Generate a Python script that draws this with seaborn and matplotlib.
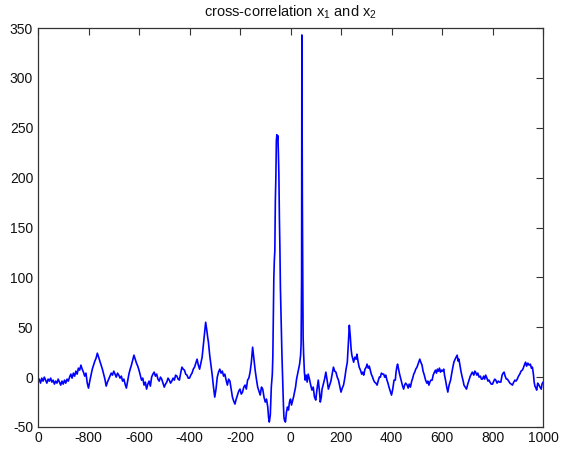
import numpy as np
import pandas as pd
import matplotlib
matplotlib.use("Agg")
import matplotlib.pyplot as plt
import seaborn as sns

# (lag, cross-correlation) samples, grouped by lag range
seg_far_left = [
    (-1000, -5), (-995, -2), (-990, -6), (-985, -1), (-980, -4), (-975, 0), (-970, -3),
    (-965, -6), (-960, -2), (-955, -4), (-950, -1), (-945, -5), (-940, -3), (-935, -7),
    (-930, -4), (-925, -6), (-920, -2), (-915, -5), (-910, -8), (-905, -4), (-900, -7),
    (-895, -3), (-890, -6), (-885, -2), (-880, -4), (-875, 0), (-870, 3), (-865, -1),
    (-860, 4), (-855, 1), (-850, 6), (-845, 3), (-840, 9), (-835, 7), (-830, 12),
    (-825, 8), (-820, 5), (-815, 1), (-810, 4), (-805, -6), (-800, -11), (-795, -4),
    (-790, 2), (-785, 8), (-780, 12), (-775, 16), (-770, 19), (-765, 24), (-760, 20),
    (-755, 16), (-750, 12), (-745, 8), (-740, 3), (-735, -2), (-730, -9), (-725, -5),
    (-720, -2), (-715, 1), (-710, 4), (-705, 2), (-700, 6), (-695, 3), (-690, 0),
    (-685, 4), (-680, 2), (-675, -1), (-670, 1), (-665, -4), (-660, -2), (-655, -7),
    (-650, -11), (-645, -4), (-640, 3), (-635, 8), (-630, 12), (-625, 17), (-620, 22),
    (-615, 18), (-610, 14), (-605, 11), (-600, 7), (-595, 2), (-590, -3), (-585, -1),
    (-580, -8), (-575, -5), (-570, -12), (-565, -7), (-560, -4), (-555, -9), (-550, 0),
    (-545, 3), (-540, 5),
]

seg_left = [
    (-535, 1), (-530, 3), (-525, -2), (-520, -4), (-515, 0), (-510, -2), (-505, -6),
    (-500, -10), (-495, -7), (-490, -5), (-485, -1), (-480, -3), (-475, -6), (-470, -4),
    (-465, -1), (-460, -3), (-455, 2), (-450, 1), (-445, -2), (-440, -3), (-435, 4),
    (-430, 10), (-425, 8), (-420, 7), (-415, 3), (-410, 2), (-405, -1), (-400, -1),
    (-395, 2), (-390, 4), (-385, 8), (-380, 10), (-375, 14), (-370, 18), (-365, 12),
    (-360, 8), (-355, 14), (-350, 20), (-345, 33), (-340, 45), (-336, 55), (-332, 48),
    (-328, 40), (-325, 35), (-320, 22), (-315, 12), (-310, 2), (-305, -10), (-300, -20),
    (-295, -12), (-290, 0), (-285, 5), (-280, 8), (-275, 4), (-270, 6), (-265, 1),
    (-260, 3), (-255, -3), (-250, -8), (-245, -2), (-240, -4), (-235, -12), (-230, -20),
    (-225, -24), (-220, -27), (-215, -22), (-210, -18), (-205, -14), (-200, -12),
    (-195, -17), (-190, -15), (-185, -10), (-180, -8), (-175, -12), (-170, -3),
    (-165, -1), (-160, 5), (-155, 15), (-150, 30), (-145, 18), (-140, 7), (-135, -2),
    (-130, -10), (-125, -14),
]

seg_center = [
    (-120, -18), (-115, -10), (-110, -12), (-105, -20), (-100, -25), (-95, -22),
    (-90, -30), (-87, -40), (-84, -45), (-80, -38), (-76, -10), (-72, 3), (-70, 20),
    (-68, 57), (-66, 100), (-64, 117), (-62, 127), (-60, 177), (-58, 200), (-56, 237),
    (-54, 243), (-52, 238), (-50, 242), (-48, 225), (-46, 203), (-44, 160), (-42, 130),
    (-40, 90), (-38, 67), (-36, 45), (-34, 23), (-32, 5), (-30, -10), (-28, -28),
    (-26, -40), (-24, -43), (-20, -45), (-16, -35), (-12, -30), (-8, -33), (-4, -25),
    (0, -22), (4, -28), (8, -24), (12, -20), (16, -15), (20, -10), (24, -2), (28, 3),
    (32, 8), (36, 13), (40, 22), (42, 33), (44, 100), (45, 343), (46, 250), (47, 175),
    (48, 120), (49, 80), (50, 40), (52, 23), (55, 5), (58, -3), (62, 2), (66, -5),
    (70, 3), (75, -2), (80, -8), (85, -13), (90, -10), (95, -20), (100, -23),
    (105, -12), (110, -3), (115, -15), (118, -25), (122, -20),
]

seg_right = [
    (125, -12), (130, -7), (135, -2), (140, 5), (145, -3), (150, -12), (155, -8),
    (160, -4), (165, 3), (170, 10), (175, 6), (180, 5), (185, 0), (190, -3), (195, -9),
    (200, -15), (205, -11), (210, -8), (215, -1), (220, 8), (225, 15), (230, 38),
    (233, 52), (237, 40), (240, 28), (243, 22), (247, 18), (250, 15), (255, 20),
    (260, 18), (263, 23), (268, 15), (272, 10), (277, 7), (282, 3), (286, 5), (290, 2),
    (295, 8), (300, 10), (303, 13), (308, 9), (312, 11), (316, 7), (320, 3), (325, 0),
    (329, -3), (333, -5), (338, -6), (343, -8), (348, -3), (352, 0), (356, 0), (360, 4),
    (365, 3), (369, 3), (373, 0), (377, 2), (382, -3), (386, -6), (390, -10),
    (395, -14), (400, -18), (405, -12), (410, -3), (415, -3), (418, 5), (421, 10),
    (424, 13), (428, 8), (432, 3), (435, 0), (440, -5), (444, -9), (448, -12),
    (452, -8), (456, -6), (462, -8), (466, -11), (470, -7), (475, -10), (480, -4),
    (484, -1), (488, 3), (492, 5), (496, 8), (501, 10), (505, 13), (509, 16), (512, 18),
    (516, 15), (521, 12), (525, 6), (530, 2), (535, -3), (540, -6), (544, -4),
    (548, -8), (552, -5), (556, -3), (561, -3), (565, 2), (570, 5), (574, 7), (578, 4),
    (582, 8), (586, 6), (590, 9), (594, 5), (598, 7),
]

seg_far_right = [
    (602, 6), (607, 8), (610, 2), (614, -3), (618, -9), (623, -15), (628, -8),
    (634, -3), (640, 6), (647, 15), (652, 18), (656, 20), (660, 22), (664, 16),
    (667, 18), (671, 12), (675, 6), (680, 0), (684, -4), (687, -8), (692, -10),
    (697, -12), (702, -7), (707, -3), (712, 1), (716, 3), (720, 5), (726, 2), (730, 6),
    (733, 5), (738, 2), (742, 4), (747, 0), (752, 1), (756, -2), (760, -2), (765, 1),
    (769, -2), (773, 2), (778, -1), (782, -4), (786, -3), (790, -5), (795, -7),
    (800, -7), (805, -4), (809, -2), (813, -3), (818, -6), (823, -4), (828, -5),
    (833, -5), (838, 2), (842, 4), (846, 5), (850, 1), (855, -2), (859, -2), (864, -4),
    (869, -6), (874, -7), (879, -8), (884, -5), (889, -3), (893, -4), (898, -2),
    (903, 1), (908, 3), (913, 6), (918, 7), (922, 9), (926, 12), (931, 15), (935, 11),
    (940, 14), (945, 12), (950, 13), (954, 9), (958, 10), (962, 3), (965, -5),
    (968, -9), (972, -11), (975, -13), (979, -6), (984, -8), (988, -10), (993, -12),
    (996, -7), (1000, -5),
]

x_ticks = [-1000, -800, -600, -400, -200, 0, 200, 400, 600, 800, 1000]
x_tick_labels = ["0", "-800", "-600", "-400", "-200", "0", "200", "400", "600", "800", "1000"]
y_ticks = [-50, 0, 50, 100, 150, 200, 250, 300, 350]
y_tick_labels = ["-50", "0", "50", "100", "150", "200", "250", "300", "350"]

samples = seg_far_left + seg_left + seg_center + seg_right + seg_far_right
df = pd.DataFrame(samples, columns=["lag", "xcorr"])

sns.set_style("white")
plt.rcParams["font.family"] = ["Liberation Sans", "DejaVu Sans"]
plt.rcParams["mathtext.default"] = "regular"

fig = plt.figure(figsize=(5.7, 4.5), dpi=100)
ax = fig.add_axes([38 / 570, 23 / 450, 505 / 570, 399 / 450])

sns.lineplot(data=df, x="lag", y="xcorr", ax=ax, color="#0000ff", linewidth=1.2,
             estimator=None, sort=False)

ax.set_xlim(-1000, 1000)
ax.set_ylim(-50, 350)
ax.set_xticks(x_ticks)
ax.set_xticklabels(x_tick_labels)
ax.set_yticks(y_ticks)
ax.set_yticklabels(y_tick_labels)
ax.set_xlabel("")
ax.set_ylabel("")

for side in ["left", "right", "top", "bottom"]:
    ax.spines[side].set_visible(True)
    ax.spines[side].set_color("#333333")
    ax.spines[side].set_linewidth(0.9)

ax.tick_params(axis="both", which="major", direction="in", length=5, width=0.8,
               top=True, right=True, labelsize=10, color="#333333", labelcolor="#111111")
ax.tick_params(axis="x", pad=3)
ax.tick_params(axis="y", pad=3.5)

ax.set_title("cross-correlation x$_1$ and x$_2$", fontsize=10.5, pad=8, color="#111111")

fig.savefig("out.png", dpi=100)
